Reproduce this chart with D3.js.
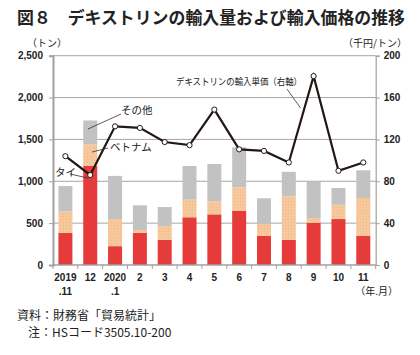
<!DOCTYPE html>
<html><head><meta charset="utf-8">
<script src="https://cdn.jsdelivr.net/npm/d3@7/dist/d3.min.js"></script>
<style>body{margin:0;background:#fff;}svg{display:block;font-family:"Noto Sans CJK JP","Noto Sans",sans-serif;}</style>
</head><body>
<svg id="c" width="420" height="355"></svg>
<script>
const categories = ["2019|.11","12","2020|.1","2","3","4","5","6","7","8","9","10","11"];
const thai     = [385,1185,225,385,300,570,605,645,350,300,505,549,350];
const vietnam  = [255, 255,325, 33,165,210,156,283,140,522, 56,171,450];
const others   = [303, 286,514,295,227,403,445,478,307,291,434,200,331];
const price    = [104, 86,132.5,131,117.5,114.5,148.5,110.5,109,98,180.5,90,98];
const leftTicks = [0,500,1000,1500,2000,2500];
const rightTicks = [0,40,80,120,160,200];
const seriesNames = ["タイ","ベトナム","その他"];
const colors = ["#e53b3b","#f7c89b","#c2c2c2"];

const svg = d3.select("#c");
const L = 53, R = 375.7, T = 55.7, B = 265;
const x = d3.scaleBand().domain(categories).range([L,R]).paddingInner(0.436).paddingOuter(0.218);
const yL = d3.scaleLinear().domain([0,2500]).range([B,T]);
const yR = d3.scaleLinear().domain([0,200]).range([B,T]);

// pattern for vietnam
const defs = svg.append("defs");
const pat = defs.append("pattern").attr("id","dots").attr("width",3).attr("height",3).attr("patternUnits","userSpaceOnUse");
pat.append("rect").attr("width",3).attr("height",3).attr("fill","#f7c89b");
pat.append("rect").attr("x",0).attr("y",0).attr("width",1).attr("height",1).attr("fill","#efb888");

// title
svg.append("text").attr("x",17).attr("y",24).attr("font-size",17).attr("font-weight","bold").attr("fill","#222")
  .attr("textLength",388).attr("lengthAdjust","spacingAndGlyphs")
  .text("図８　デキストリンの輸入量および輸入価格の推移");

// gridlines
svg.append("g").selectAll("line").data(leftTicks.slice(1)).join("line")
  .attr("x1",L).attr("x2",R).attr("y1",d=>yL(d)).attr("y2",d=>yL(d))
  .attr("stroke","#a6a6a6").attr("stroke-width",1);

// bars
const stackData = categories.map((c,i)=>({c, v:[thai[i],vietnam[i],others[i]]}));
const fills = [colors[0],"url(#dots)",colors[2]];
stackData.forEach(d=>{
  let base = 0;
  d.v.forEach((v,k)=>{
    svg.append("rect").attr("x",x(d.c)).attr("width",x.bandwidth())
      .attr("y",yL(base+v)).attr("height",yL(base)-yL(base+v)).attr("fill",fills[k]);
    base += v;
  });
});

// left axis
const gL = svg.append("g").attr("transform",`translate(${L},0)`)
  .call(d3.axisLeft(yL).tickValues(leftTicks).tickSize(4).tickFormat(d3.format(",")));
gL.select(".domain").attr("stroke","#a0a0a0").attr("stroke-width",2);
gL.selectAll(".tick line").attr("stroke","#a0a0a0");
gL.selectAll(".tick text").attr("x",-10).attr("font-size",10).attr("font-weight","bold").attr("fill","#222")
  .attr("font-family","'Liberation Sans',Arial,sans-serif");

// right axis
const gR = svg.append("g").attr("transform",`translate(${R},0)`)
  .call(d3.axisRight(yR).tickValues(rightTicks).tickSize(4));
gR.select(".domain").attr("stroke","#a0a0a0").attr("stroke-width",1.2);
gR.selectAll(".tick line").attr("stroke","#a0a0a0");
gR.selectAll(".tick text").attr("x",8).attr("font-size",10).attr("font-weight","bold").attr("fill","#222")
  .attr("font-family","'Liberation Sans',Arial,sans-serif");

// x axis
const gX = svg.append("g").attr("transform",`translate(0,${B})`);
gX.append("line").attr("x1",L).attr("x2",R).attr("stroke","#a0a0a0").attr("stroke-width",1.5);
const bounds = categories.map(c=>x(c)-(x.step()-x.bandwidth())/2).concat([R]);
gX.selectAll(".tk").data(bounds).join("line").attr("class","tk")
  .attr("x1",d=>d).attr("x2",d=>d).attr("y1",0).attr("y2",4).attr("stroke","#a0a0a0");
categories.forEach(c=>{
  const parts = c.split("|");
  const t = gX.append("text").attr("x",x(c)+x.bandwidth()/2).attr("text-anchor","middle")
    .attr("font-size",10).attr("font-weight","bold").attr("fill","#222")
    .attr("font-family","'Liberation Sans',Arial,sans-serif");
  t.append("tspan").attr("x",x(c)+x.bandwidth()/2).attr("y",16).text(parts[0]);
  if(parts[1]) t.append("tspan").attr("x",x(c)+x.bandwidth()/2).attr("y",30).text(parts[1]);
});

// line
const cx = c=>x(c)+x.bandwidth()/2;
svg.append("path").datum(price)
  .attr("d",d3.line().x((d,i)=>cx(categories[i])).y(d=>yR(d)))
  .attr("fill","none").attr("stroke","#231815").attr("stroke-width",2.2);
svg.append("g").selectAll("circle").data(price).join("circle")
  .attr("cx",(d,i)=>cx(categories[i])).attr("cy",d=>yR(d)).attr("r",2.6)
  .attr("fill","#fff").attr("stroke","#231815").attr("stroke-width",1);

// unit labels
svg.append("text").attr("x",27).attr("y",47).attr("font-size",10).attr("fill","#222").text("（トン）");
svg.append("text").attr("x",407).attr("y",47).attr("text-anchor","end").attr("font-size",10).attr("fill","#222").text("（千円/トン）");
svg.append("text").attr("x",398).attr("y",295).attr("text-anchor","end").attr("font-size",10).attr("fill","#222").text("（年.月）");

// annotations
const ann = svg.append("g").attr("font-size",10.5).attr("fill","#222");
const lead = (x1,y1,x2,y2)=>svg.append("line").attr("x1",x1).attr("y1",y1).attr("x2",x2).attr("y2",y2).attr("stroke","#333").attr("stroke-width",0.8);
ann.append("text").attr("x",121).attr("y",114).text(seriesNames[2]);
lead(88,129,121,114);
ann.append("text").attr("x",110).attr("y",150.5).text(seriesNames[1]);
lead(92,152,108,148);
ann.append("text").attr("x",55).attr("y",175.5).text(seriesNames[0]);
lead(70,174,88,178);
ann.append("text").attr("x",176).attr("y",84.5).attr("font-size",9.5)
  .attr("textLength",126).attr("lengthAdjust","spacingAndGlyphs").text("デキストリンの輸入単価（右軸）");
lead(287,89,300.5,108);

// notes
svg.append("text").attr("x",17).attr("y",320).attr("font-size",12).attr("fill","#222").text("資料：財務省「貿易統計」");
svg.append("text").attr("x",28).attr("y",337).attr("font-size",12).attr("fill","#222").text("注：HSコード3505.10-200");
</script>
</body></html>
